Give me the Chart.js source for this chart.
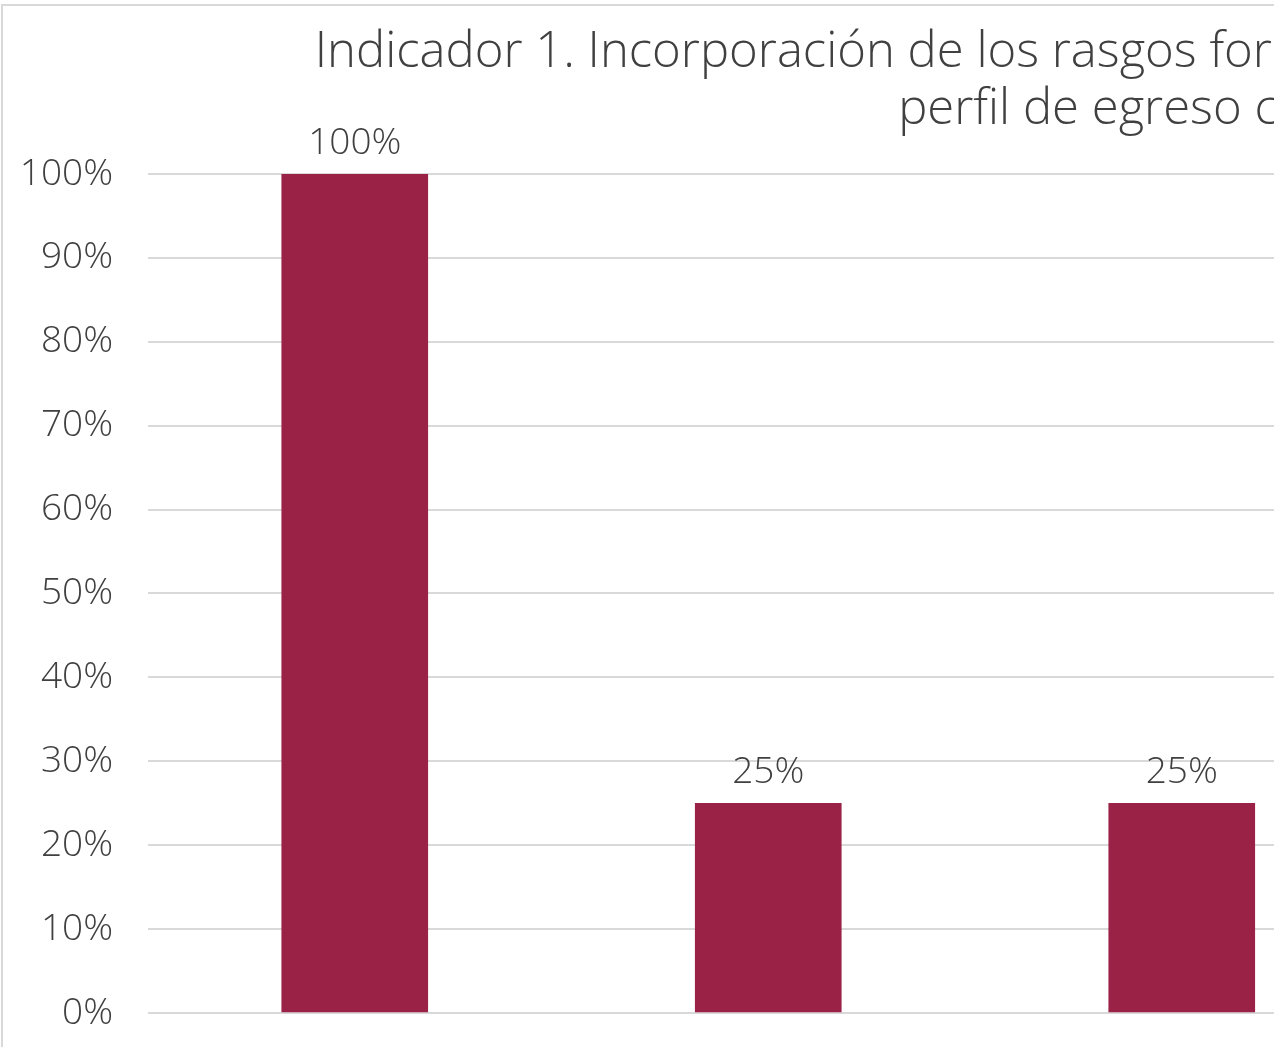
<!DOCTYPE html>
<html lang="es">
<head>
<meta charset="utf-8">
<script src="https://cdn.jsdelivr.net/npm/chart.js@4"></script>
<style>
  html, body { margin: 0; padding: 0; background: #fff; overflow: hidden; }
  #marco { position: absolute; left: 1px; top: 4px; border: 2px solid #d9d9d9; }
  #grafica { display: block; }
</style>
</head>
<body>
<div id="marco"><canvas id="grafica" width="2232" height="1100"></canvas></div>
<script>
// datos
var tituloLineas = [
    'Indicador 1. Incorporación de los rasgos formativos en los programas del',
    'perfil de egreso con'
];
var posiciones = [0, 1, 2];
var porcentajes = [100, 25, 25];
var marcasY = [0, 10, 20, 30, 40, 50, 60, 70, 80, 90, 100];

var fuente = "'Open Sans', 'Noto Sans', sans-serif";
var gris = '#404040';

// etiquetas de valor encima de cada barra
var etiquetasBarras = {
    id: 'etiquetasBarras',
    afterDatasetsDraw: function (chart) {
        var ctx = chart.ctx;
        var meta = chart.getDatasetMeta(0);
        ctx.save();
        ctx.font = '300 37px ' + fuente;
        ctx.fillStyle = gris;
        ctx.textAlign = 'center';
        ctx.textBaseline = 'alphabetic';
        meta.data.forEach(function (barra, i) {
            ctx.fillText(porcentajes[i] + '%', barra.x, barra.y - 20);
        });
        ctx.restore();
    }
};

var ctx = document.getElementById('grafica').getContext('2d');
var grafica = new Chart(ctx, {
    type: 'bar',
    data: {
        datasets: [{
            data: posiciones.map(function (p, i) { return { x: p, y: porcentajes[i] }; }),
            backgroundColor: '#9B2247',
            borderWidth: 0,
            barThickness: 146
        }]
    },
    options: {
        responsive: false,
        devicePixelRatio: 1,
        animation: false,
        layout: { padding: { left: 15, right: 19.5, top: 0, bottom: 93 } },
        scales: {
            x: {
                type: 'linear',
                min: -0.5,
                max: 4.5,
                offset: false,
                display: false
            },
            y: {
                min: 0,
                max: 100,
                afterBuildTicks: function (escala) {
                    escala.ticks = marcasY.map(function (v) { return { value: v }; });
                },
                afterFit: function (escala) { escala.width = 130; },
                border: { display: false },
                grid: { color: '#d9d9d9', lineWidth: 2, drawTicks: false },
                ticks: {
                    padding: 35,
                    color: gris,
                    font: { family: fuente, size: 37, weight: 300 },
                    callback: function (v) { return v + '%'; }
                }
            }
        },
        plugins: {
            legend: { display: false },
            tooltip: { enabled: false },
            title: {
                display: true,
                text: tituloLineas,
                color: gris,
                font: { family: fuente, size: 49, weight: 300, lineHeight: 1.163 },
                padding: { top: 19, bottom: 35 }
            }
        }
    },
    plugins: [etiquetasBarras]
});
</script>
</body>
</html>
